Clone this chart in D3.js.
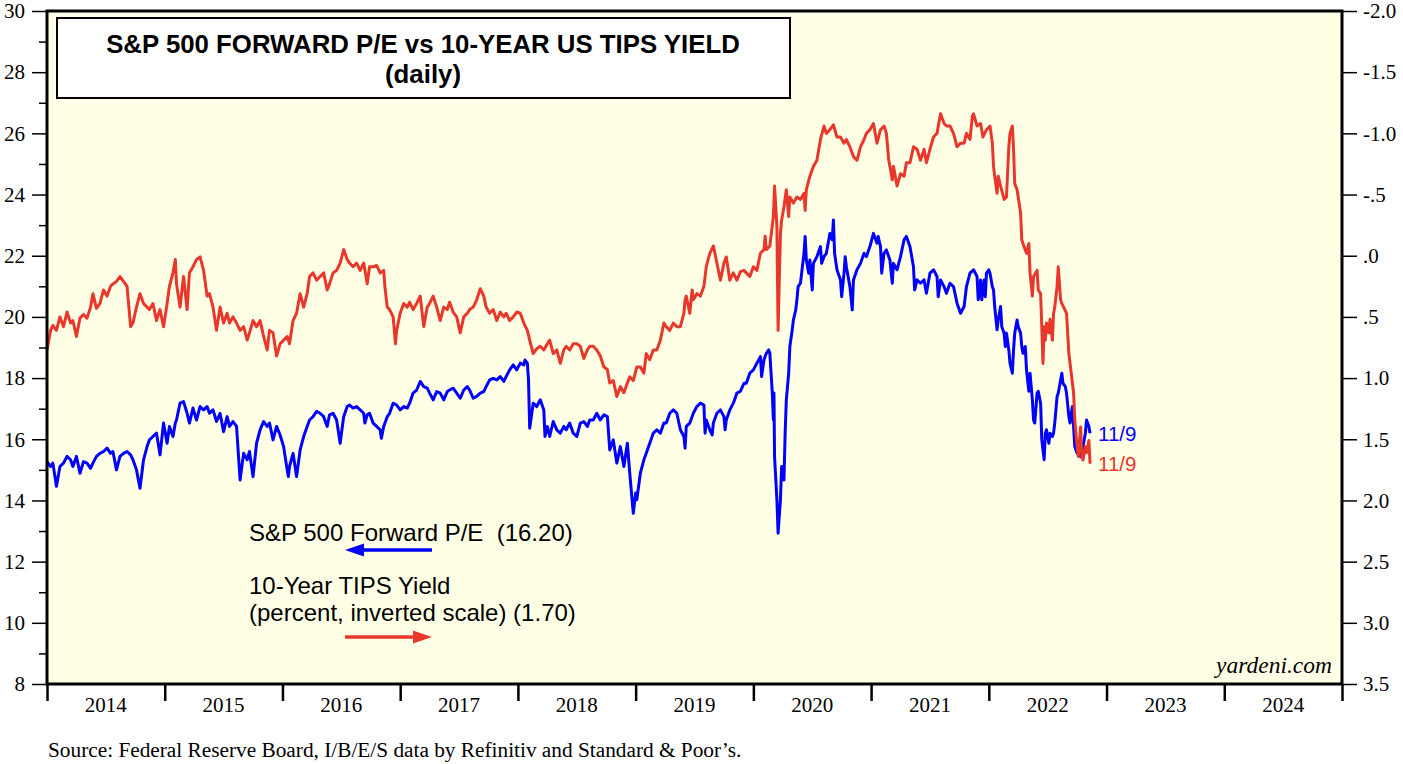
<!DOCTYPE html>
<html><head><meta charset="utf-8">
<script src="https://cdn.jsdelivr.net/npm/d3@7"></script>
<style>body{margin:0;background:#fff;} svg{display:block;}</style>
</head><body><svg id="c" width="1403" height="764"></svg>
<script>
// S&P 500 forward P/E (left axis), [decimal year, value]
const peData = [[2014.00,15.27],[2014.03,15.11],[2014.05,15.22],[2014.08,14.46],[2014.10,14.89],[2014.11,15.11],[2014.14,15.22],[2014.17,15.44],[2014.20,15.33],[2014.22,15.11],[2014.25,15.44],[2014.28,14.89],[2014.31,15.27],[2014.34,15.22],[2014.37,15.05],[2014.39,15.22],[2014.42,15.44],[2014.45,15.54],[2014.48,15.60],[2014.51,15.71],[2014.54,15.54],[2014.56,15.60],[2014.59,15.00],[2014.62,15.44],[2014.65,15.54],[2014.68,15.60],[2014.71,15.49],[2014.73,15.33],[2014.76,15.00],[2014.79,14.40],[2014.82,15.33],[2014.85,15.76],[2014.87,15.98],[2014.90,16.09],[2014.93,16.20],[2014.96,15.49],[2014.99,16.53],[2015.02,15.87],[2015.04,16.42],[2015.07,16.09],[2015.09,16.53],[2015.10,16.63],[2015.13,17.18],[2015.16,17.23],[2015.19,16.85],[2015.21,16.53],[2015.24,17.02],[2015.27,16.63],[2015.30,17.07],[2015.33,16.96],[2015.36,17.07],[2015.38,16.85],[2015.41,16.96],[2015.44,16.58],[2015.47,16.85],[2015.50,16.25],[2015.53,16.74],[2015.55,16.42],[2015.58,16.58],[2015.61,16.42],[2015.64,14.67],[2015.67,15.54],[2015.70,15.33],[2015.72,15.60],[2015.75,14.78],[2015.78,15.87],[2015.81,16.31],[2015.84,16.58],[2015.87,16.42],[2015.89,16.53],[2015.92,15.98],[2015.95,16.42],[2015.98,16.14],[2016.01,15.76],[2016.04,15.00],[2016.05,14.78],[2016.06,15.11],[2016.09,15.54],[2016.12,14.78],[2016.15,15.65],[2016.18,16.09],[2016.21,16.42],[2016.23,16.63],[2016.26,16.74],[2016.29,16.91],[2016.32,16.85],[2016.35,16.74],[2016.38,16.42],[2016.40,16.80],[2016.43,16.85],[2016.46,16.63],[2016.49,15.87],[2016.52,16.74],[2016.55,17.07],[2016.57,17.12],[2016.60,17.02],[2016.63,17.07],[2016.66,16.96],[2016.69,16.85],[2016.70,16.53],[2016.72,16.80],[2016.74,16.85],
[2016.77,16.53],[2016.80,16.42],[2016.83,16.31],[2016.84,16.03],[2016.86,16.42],[2016.89,16.74],[2016.91,16.85],[2016.94,17.18],[2016.97,17.12],[2017.00,16.96],[2017.03,17.07],[2017.06,17.02],[2017.08,17.18],[2017.11,17.51],[2017.14,17.61],[2017.17,17.89],[2017.20,17.72],[2017.23,17.67],[2017.25,17.51],[2017.28,17.29],[2017.31,17.56],[2017.34,17.51],[2017.37,17.29],[2017.40,17.56],[2017.42,17.61],[2017.45,17.67],[2017.48,17.51],[2017.51,17.34],[2017.54,17.61],[2017.57,17.72],[2017.59,17.61],[2017.62,17.34],[2017.65,17.40],[2017.68,17.51],[2017.71,17.56],[2017.73,17.72],[2017.76,17.94],[2017.79,17.99],[2017.82,17.94],[2017.85,18.05],[2017.88,17.89],[2017.90,18.05],[2017.93,18.27],[2017.96,18.43],[2017.99,18.27],[2018.02,18.49],[2018.05,18.43],[2018.06,18.59],[2018.08,18.49],[2018.09,17.94],[2018.10,16.36],[2018.13,17.18],[2018.16,17.07],[2018.19,17.29],[2018.22,16.96],[2018.23,16.09],[2018.25,16.42],[2018.27,16.09],[2018.30,16.58],[2018.33,16.31],[2018.36,16.20],[2018.39,16.42],[2018.41,16.31],[2018.44,16.53],[2018.47,16.20],[2018.50,16.09],[2018.53,16.53],[2018.56,16.58],[2018.59,16.42],[2018.61,16.63],[2018.64,16.63],[2018.67,16.85],[2018.70,16.63],[2018.73,16.80],[2018.76,16.74],[2018.77,16.20],[2018.78,15.65],[2018.81,15.98],[2018.84,15.22],[2018.87,15.76],[2018.90,15.11],[2018.93,15.87],[2018.95,14.89],[2018.98,13.58],[2019.00,14.24],[2019.01,14.02],[2019.04,14.89],[2019.07,15.33],[2019.09,15.54],[2019.12,15.87],[2019.15,16.20],[2019.18,16.31],[2019.21,16.20],[2019.24,16.53],[2019.26,16.53],[2019.29,16.85],[2019.32,16.96],[2019.35,16.85],[2019.38,16.31],
[2019.41,16.09],[2019.42,15.71],[2019.43,16.42],[2019.46,16.53],[2019.49,16.85],[2019.52,17.07],[2019.55,17.18],[2019.58,17.12],[2019.59,16.20],[2019.60,16.63],[2019.63,16.31],[2019.65,16.14],[2019.66,16.53],[2019.69,16.85],[2019.72,16.96],[2019.75,16.74],[2019.76,16.31],[2019.77,16.63],[2019.80,16.96],[2019.83,17.18],[2019.85,17.40],[2019.86,17.51],[2019.89,17.57],[2019.92,17.83],[2019.94,17.83],[2019.97,18.16],[2020.00,18.27],[2020.03,18.49],[2020.06,18.70],[2020.07,18.05],[2020.09,18.60],[2020.11,18.81],[2020.13,18.92],[2020.14,18.81],[2020.16,17.57],[2020.17,16.63],[2020.175,17.51],[2020.18,15.43],[2020.20,14.02],[2020.21,12.93],[2020.23,14.02],[2020.24,15.11],[2020.26,14.67],[2020.27,16.20],[2020.28,17.29],[2020.30,18.16],[2020.31,19.03],[2020.33,19.57],[2020.34,19.90],[2020.36,20.23],[2020.37,20.56],[2020.38,20.99],[2020.40,21.10],[2020.41,21.43],[2020.43,22.08],[2020.44,22.63],[2020.45,21.86],[2020.47,21.43],[2020.48,21.86],[2020.50,20.88],[2020.51,21.75],[2020.54,21.97],[2020.57,22.30],[2020.58,21.75],[2020.60,21.97],[2020.62,22.08],[2020.65,22.73],[2020.67,22.52],[2020.68,23.17],[2020.69,22.08],[2020.71,21.54],[2020.74,21.21],[2020.75,20.66],[2020.77,21.43],[2020.78,21.97],[2020.79,21.64],[2020.82,20.99],[2020.84,20.23],[2020.85,21.21],[2020.88,21.54],[2020.91,21.75],[2020.94,22.08],[2020.96,21.97],[2020.99,22.30],[2021.02,22.73],[2021.05,22.41],[2021.06,22.63],[2021.08,22.30],[2021.09,21.43],[2021.11,22.08],[2021.13,22.19],[2021.16,21.86],[2021.18,21.10],[2021.19,21.75],[2021.22,21.54],[2021.25,21.97],[2021.28,22.52],[2021.30,22.63],[2021.33,22.30],[2021.36,21.64],[2021.37,20.88],[2021.39,21.21],[2021.42,21.10],[2021.45,21.21],[2021.47,20.77],[2021.50,21.43],[2021.53,21.54],[2021.56,21.32],[2021.57,20.66],[2021.59,21.21],[2021.62,20.99],[2021.64,20.77],[2021.67,21.10],[2021.70,20.99],[2021.73,20.45],[2021.76,20.12],[2021.79,20.34],[2021.81,20.99],[2021.84,21.43],[2021.87,21.54],[2021.90,21.32],[2021.91,20.56],[2021.93,21.21],
[2021.94,20.56],[2021.96,21.21],[2021.97,20.66],[2021.98,21.43],[2022.00,21.54],[2022.01,21.43],[2022.03,20.99],[2022.04,20.88],[2022.05,20.34],[2022.07,19.58],[2022.08,19.90],[2022.10,20.34],[2022.11,19.68],[2022.13,19.47],[2022.14,19.03],[2022.15,19.47],[2022.17,18.92],[2022.18,18.49],[2022.20,18.16],[2022.21,18.92],[2022.22,19.47],[2022.24,19.90],[2022.25,19.68],[2022.27,19.47],[2022.28,19.03],[2022.29,18.81],[2022.31,19.03],[2022.32,18.27],[2022.34,17.57],[2022.35,18.16],[2022.37,17.29],[2022.38,16.63],[2022.39,16.53],[2022.41,17.51],[2022.42,17.57],[2022.44,17.18],[2022.45,15.98],[2022.47,15.33],[2022.48,16.20],[2022.49,16.31],[2022.51,15.87],[2022.52,16.20],[2022.54,16.09],[2022.55,16.20],[2022.56,16.53],[2022.58,17.40],[2022.59,17.51],[2022.61,17.94],[2022.62,18.16],[2022.63,17.83],[2022.65,17.72],[2022.66,17.51],[2022.68,16.74],[2022.69,16.53],[2022.71,17.07],[2022.72,16.42],[2022.73,15.76],[2022.75,15.54],[2022.76,15.65],[2022.78,15.43],[2022.79,15.54],[2022.80,15.76],[2022.82,16.20],[2022.83,16.63],[2022.85,16.42],[2022.86,16.20]];

// 10-year TIPS yield, percent (right axis, inverted), [decimal year, value]
const tipsData = [[2014.00,0.77],[2014.03,0.61],[2014.05,0.57],[2014.08,0.61],[2014.11,0.50],[2014.14,0.58],[2014.17,0.46],[2014.20,0.55],[2014.22,0.53],[2014.25,0.66],[2014.28,0.51],[2014.31,0.48],[2014.34,0.51],[2014.37,0.42],[2014.39,0.31],[2014.42,0.43],[2014.45,0.39],[2014.48,0.28],[2014.51,0.33],[2014.54,0.25],[2014.56,0.23],[2014.59,0.21],[2014.62,0.17],[2014.65,0.21],[2014.68,0.25],[2014.71,0.58],[2014.73,0.55],[2014.76,0.42],[2014.79,0.31],[2014.82,0.39],[2014.85,0.42],[2014.87,0.44],[2014.90,0.39],[2014.93,0.53],[2014.96,0.44],[2014.99,0.58],[2015.02,0.39],[2015.04,0.25],[2015.07,0.14],[2015.09,0.03],[2015.10,0.23],[2015.13,0.42],[2015.16,0.17],[2015.19,0.44],[2015.21,0.14],[2015.24,0.09],[2015.27,0.03],[2015.30,0.01],[2015.33,0.12],[2015.36,0.33],[2015.38,0.31],[2015.41,0.42],[2015.44,0.61],[2015.47,0.42],[2015.50,0.55],[2015.53,0.47],[2015.55,0.55],[2015.58,0.50],[2015.61,0.55],[2015.64,0.61],[2015.67,0.58],[2015.70,0.69],[2015.72,0.63],[2015.75,0.53],[2015.78,0.58],[2015.81,0.53],[2015.84,0.66],[2015.87,0.77],[2015.89,0.61],[2015.92,0.63],[2015.95,0.82],[2015.98,0.72],[2016.01,0.69],[2016.04,0.66],[2016.06,0.72],[2016.09,0.53],[2016.12,0.47],[2016.15,0.31],[2016.18,0.42],[2016.21,0.31],[2016.23,0.17],[2016.26,0.14],[2016.29,0.20],[2016.32,0.17],[2016.35,0.14],[2016.38,0.28],[2016.40,0.23],[2016.43,0.14],[2016.46,0.12],[2016.49,0.06],[2016.52,-0.05],[2016.55,0.03],[2016.57,0.06],[2016.60,0.09],[2016.63,0.06],[2016.66,0.12],[2016.69,0.06],[2016.72,0.23],[2016.74,0.09],
[2016.77,0.09],[2016.80,0.08],[2016.83,0.14],[2016.86,0.12],[2016.87,0.25],[2016.89,0.42],[2016.91,0.44],[2016.94,0.50],[2016.96,0.72],[2016.97,0.61],[2017.00,0.47],[2017.03,0.39],[2017.06,0.42],[2017.08,0.38],[2017.11,0.44],[2017.14,0.39],[2017.17,0.33],[2017.20,0.58],[2017.23,0.42],[2017.25,0.39],[2017.28,0.33],[2017.31,0.42],[2017.34,0.53],[2017.37,0.42],[2017.40,0.44],[2017.42,0.38],[2017.45,0.46],[2017.48,0.50],[2017.51,0.63],[2017.54,0.50],[2017.57,0.47],[2017.59,0.44],[2017.62,0.42],[2017.65,0.36],[2017.68,0.27],[2017.71,0.33],[2017.73,0.42],[2017.76,0.47],[2017.79,0.44],[2017.82,0.53],[2017.85,0.46],[2017.88,0.50],[2017.90,0.47],[2017.93,0.53],[2017.96,0.50],[2017.99,0.46],[2018.02,0.47],[2018.05,0.55],[2018.08,0.61],[2018.10,0.69],[2018.13,0.80],[2018.16,0.76],[2018.19,0.74],[2018.22,0.77],[2018.25,0.72],[2018.27,0.69],[2018.30,0.80],[2018.33,0.77],[2018.36,0.88],[2018.39,0.77],[2018.41,0.74],[2018.44,0.77],[2018.47,0.72],[2018.50,0.72],[2018.53,0.74],[2018.56,0.84],[2018.59,0.77],[2018.61,0.74],[2018.64,0.74],[2018.67,0.77],[2018.70,0.82],[2018.73,0.91],[2018.76,0.93],[2018.78,1.04],[2018.81,1.02],[2018.84,1.15],[2018.87,1.07],[2018.90,1.12],[2018.93,1.04],[2018.95,0.99],[2018.98,1.02],[2019.01,0.91],[2019.04,0.91],[2019.07,0.96],[2019.09,0.80],[2019.12,0.85],[2019.15,0.77],[2019.18,0.77],[2019.21,0.69],[2019.24,0.55],[2019.26,0.58],[2019.29,0.61],[2019.32,0.55],[2019.35,0.58],[2019.38,0.58],
[2019.41,0.47],[2019.42,0.36],[2019.43,0.33],[2019.46,0.47],[2019.48,0.28],[2019.49,0.36],[2019.52,0.31],[2019.55,0.33],[2019.58,0.25],[2019.60,0.09],[2019.63,-0.02],[2019.66,-0.08],[2019.68,0.01],[2019.69,0.06],[2019.72,0.20],[2019.75,0.06],[2019.77,0.01],[2019.80,0.20],[2019.83,0.14],[2019.86,0.20],[2019.89,0.13],[2019.92,0.12],[2019.94,0.14],[2019.97,0.17],[2020.00,0.09],[2020.03,0.12],[2020.06,-0.02],[2020.09,-0.05],[2020.10,-0.16],[2020.11,-0.05],[2020.14,-0.08],[2020.16,-0.24],[2020.17,-0.32],[2020.18,-0.57],[2020.20,-0.24],[2020.21,0.61],[2020.23,-0.18],[2020.24,-0.29],[2020.26,-0.40],[2020.28,-0.54],[2020.30,-0.32],[2020.31,-0.48],[2020.34,-0.43],[2020.37,-0.48],[2020.40,-0.46],[2020.43,-0.51],[2020.44,-0.37],[2020.45,-0.54],[2020.48,-0.65],[2020.51,-0.73],[2020.54,-0.78],[2020.57,-0.95],[2020.60,-1.06],[2020.62,-1.00],[2020.65,-1.03],[2020.68,-1.07],[2020.71,-0.97],[2020.74,-0.97],[2020.77,-0.92],[2020.79,-0.95],[2020.82,-0.89],[2020.85,-0.81],[2020.88,-0.78],[2020.91,-0.89],[2020.94,-0.95],[2020.96,-1.00],[2020.99,-1.03],[2021.02,-1.08],[2021.05,-0.92],[2021.08,-1.03],[2021.11,-1.06],[2021.13,-1.00],[2021.15,-0.78],[2021.16,-0.73],[2021.18,-0.62],[2021.19,-0.73],[2021.22,-0.57],[2021.25,-0.67],[2021.28,-0.65],[2021.30,-0.76],[2021.33,-0.76],[2021.36,-0.89],[2021.39,-0.87],[2021.42,-0.78],[2021.45,-0.87],[2021.47,-0.76],[2021.50,-0.87],[2021.53,-0.97],[2021.56,-1.00],[2021.59,-1.16],[2021.62,-1.08],[2021.64,-1.06],[2021.67,-1.06],[2021.70,-1.00],[2021.73,-0.89],[2021.76,-0.92],[2021.79,-0.92],[2021.81,-1.00],[2021.84,-0.95],[2021.86,-1.14],[2021.87,-1.16],[2021.90,-1.06],
[2021.93,-1.08],[2021.95,-0.97],[2021.98,-1.03],[2022.01,-1.06],[2022.03,-0.92],[2022.04,-0.73],[2022.05,-0.65],[2022.07,-0.51],[2022.08,-0.65],[2022.10,-0.57],[2022.13,-0.46],[2022.15,-0.48],[2022.17,-0.89],[2022.18,-1.00],[2022.20,-1.06],[2022.21,-0.87],[2022.22,-0.59],[2022.24,-0.54],[2022.27,-0.35],[2022.28,-0.13],[2022.29,-0.10],[2022.32,-0.02],[2022.34,-0.10],[2022.35,0.14],[2022.37,0.33],[2022.38,0.17],[2022.41,0.12],[2022.42,0.28],[2022.44,0.31],[2022.45,0.58],[2022.46,0.88],[2022.47,0.58],[2022.48,0.69],[2022.49,0.55],[2022.51,0.63],[2022.52,0.52],[2022.54,0.69],[2022.55,0.47],[2022.56,0.42],[2022.58,0.25],[2022.59,0.09],[2022.61,0.36],[2022.62,0.39],[2022.66,0.47],[2022.68,0.80],[2022.69,0.88],[2022.71,1.04],[2022.72,1.12],[2022.73,1.34],[2022.75,1.56],[2022.76,1.64],[2022.78,1.40],[2022.79,1.64],[2022.80,1.67],[2022.82,1.56],[2022.83,1.61],[2022.85,1.51],[2022.86,1.70]];

const leftTicks = [8,10,12,14,16,18,20,22,24,26,28,30];
const leftMinorTicks = [9,11,13,15,17,19,21,23,25,27,29];
const rightTicks = [-2,-1.5,-1,-0.5,0,0.5,1,1.5,2,2.5,3,3.5];
const yearTicks = [2014,2015,2016,2017,2018,2019,2020,2021,2022,2023,2024,2025];
const yearLabels = ["2014","2015","2016","2017","2018","2019","2020","2021","2022","2023","2024"];
const titleLines = ["S&P 500 FORWARD P/E vs 10-YEAR US TIPS YIELD", "(daily)"];
const peLegend = "S&P 500 Forward P/E\u00A0\u00A0(16.20)";
const tipsLegend = ["10-Year TIPS Yield", "(percent, inverted scale) (1.70)"];
const lastDateLabel = "11/9";
const sourceText = "Source: Federal Reserve Board, I/B/E/S data by Refinitiv and Standard & Poor\u2019s.";
const brand = "yardeni.com";

const BLUE = "#0000FF", RED = "#E8372B", BG = "#FFFFE6";
const SERIF = "'Liberation Serif','Times New Roman',Times,serif";
const SANS = "'Liberation Sans',Arial,Helvetica,sans-serif";

const L = 47, R = 1342, T = 11, B = 684;
const svg = d3.select("#c");
const x = d3.scaleLinear().domain([2014, 2025]).range([L, R]);
const yL = d3.scaleLinear().domain([8, 30]).range([B, T]);
const yR = d3.scaleLinear().domain([-2, 3.5]).range([T, B]);

svg.append("rect").attr("x", L).attr("y", T).attr("width", R - L).attr("height", B - T).attr("fill", BG);

// left axis
const gL = svg.append("g").attr("transform", `translate(${L},0)`)
  .call(d3.axisLeft(yL).tickValues(leftTicks).tickSize(15).tickPadding(7).tickFormat(d3.format("d")));
gL.append("g").call(d3.axisLeft(yL).tickValues(leftMinorTicks).tickSize(8).tickFormat(""))
  .select(".domain").remove();
gL.selectAll(".domain").remove();
gL.selectAll("line").attr("stroke", "#000").attr("stroke-width", 1.5);
gL.selectAll("text").attr("font-family", SERIF).attr("font-size", 21).attr("fill", "#000");

// right axis (plain hyphen for negatives, no leading zero)
const fmtR = v => v.toFixed(1).replace(/^(-?)0\./, "$1.");
const gR = svg.append("g").attr("transform", `translate(${R},0)`)
  .call(d3.axisRight(yR).tickValues(rightTicks).tickSize(15).tickPadding(6).tickFormat(fmtR));
gR.select(".domain").remove();
gR.selectAll("line").attr("stroke", "#000").attr("stroke-width", 1.5);
gR.selectAll("text").attr("font-family", SERIF).attr("font-size", 21).attr("fill", "#000");

// bottom axis
const gB = svg.append("g").attr("transform", `translate(0,${B})`)
  .call(d3.axisBottom(x).tickValues(yearTicks).tickSize(17).tickFormat(""));
gB.select(".domain").remove();
gB.selectAll("line").attr("stroke", "#000").attr("stroke-width", 2.5);
svg.append("g").selectAll("text").data(yearLabels).join("text")
  .attr("x", d => x(+d + 0.5)).attr("y", B + 28)
  .attr("text-anchor", "middle").attr("font-family", SERIF).attr("font-size", 21)
  .text(d => d);

// lines
const lineL = d3.line().x(d => x(d[0])).y(d => yL(d[1]));
const lineR = d3.line().x(d => x(d[0])).y(d => yR(d[1]));
svg.append("path").datum(peData).attr("d", lineL).attr("fill", "none")
  .attr("stroke", BLUE).attr("stroke-width", 3).attr("stroke-linejoin", "round");
svg.append("path").datum(tipsData).attr("d", lineR).attr("fill", "none")
  .attr("stroke", RED).attr("stroke-width", 3).attr("stroke-linejoin", "round");

// frame
svg.append("rect").attr("x", L).attr("y", T).attr("width", R - L).attr("height", B - T)
  .attr("fill", "none").attr("stroke", "#000").attr("stroke-width", 3);

// title box
svg.append("rect").attr("x", 57).attr("y", 18).attr("width", 733).attr("height", 80)
  .attr("fill", "#fff").attr("stroke", "#000").attr("stroke-width", 2);
svg.append("g").selectAll("text").data(titleLines).join("text")
  .attr("x", 423).attr("y", (d, i) => 53 + i * 30)
  .attr("text-anchor", "middle").attr("font-family", SANS).attr("font-weight", "bold")
  .attr("font-size", 25.8).text(d => d);

// end labels
const lastPE = peData[peData.length - 1], lastTips = tipsData[tipsData.length - 1];
svg.append("text").attr("x", x(lastPE[0]) + 8).attr("y", yL(lastPE[1]) + 8)
  .attr("font-family", SANS).attr("font-size", 20.5).attr("fill", BLUE).text(lastDateLabel);
svg.append("text").attr("x", x(lastTips[0]) + 8).attr("y", yR(lastTips[1]) + 7)
  .attr("font-family", SANS).attr("font-size", 20.5).attr("fill", RED).text(lastDateLabel);

// legend
const lg = svg.append("g").attr("font-family", SANS).attr("font-size", 24);
lg.append("text").attr("x", 249).attr("y", 541).text(peLegend);
lg.selectAll(".t2").data(tipsLegend).join("text").attr("x", 249).attr("y", (d, i) => 594 + i * 27).text(d => d);
function arrow(y, color, left) {
  const x0 = 345, x1 = 432, head = 19, hw = 6.5;
  if (left) {
    svg.append("line").attr("x1", x0 + head - 2).attr("x2", x1).attr("y1", y).attr("y2", y).attr("stroke", color).attr("stroke-width", 3.5);
    svg.append("path").attr("d", `M${x0},${y}L${x0 + head},${y - hw}L${x0 + head},${y + hw}Z`).attr("fill", color);
  } else {
    svg.append("line").attr("x1", x0).attr("x2", x1 - head + 2).attr("y1", y).attr("y2", y).attr("stroke", color).attr("stroke-width", 3.5);
    svg.append("path").attr("d", `M${x1},${y}L${x1 - head},${y - hw}L${x1 - head},${y + hw}Z`).attr("fill", color);
  }
}
arrow(550, BLUE, true);
arrow(637, RED, false);

// brand and source
svg.append("text").attr("x", 1332).attr("y", 673).attr("text-anchor", "end")
  .attr("font-family", SERIF).attr("font-style", "italic").attr("font-size", 23.5).text(brand);
svg.append("text").attr("x", 48).attr("y", 757)
  .attr("font-family", SERIF).attr("font-size", 21.3).text(sourceText);
</script>
</body></html>
